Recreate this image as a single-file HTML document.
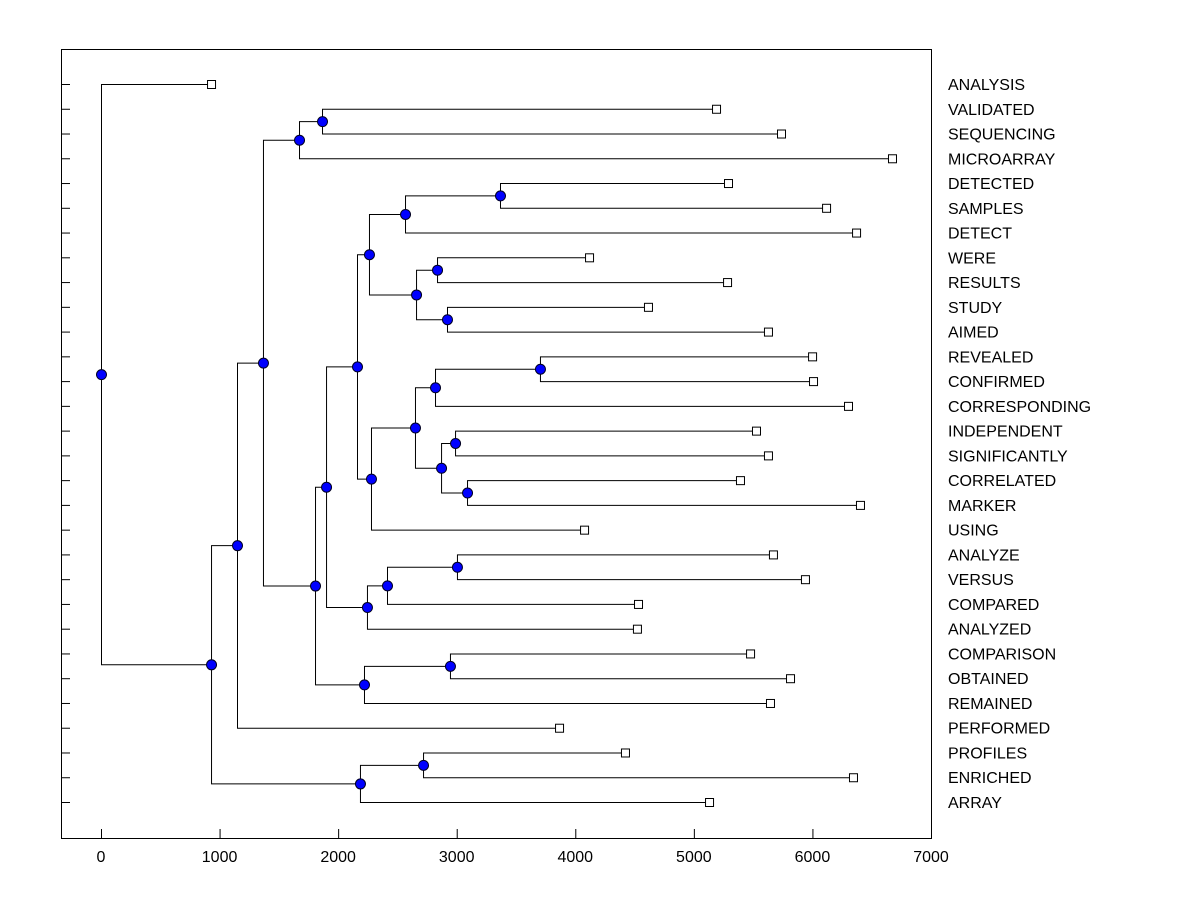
<!DOCTYPE html>
<html><head><meta charset="utf-8"><style>
body{margin:0;background:#fff;}
svg text{font-family:"Liberation Sans",Arial,sans-serif;font-size:16px;fill:#000;}
</style></head><body>
<svg id="chart" width="1200" height="900" xmlns="http://www.w3.org/2000/svg"></svg>
<script>
const labels=["ANALYSIS","VALIDATED","SEQUENCING","MICROARRAY","DETECTED","SAMPLES","DETECT","WERE","RESULTS","STUDY","AIMED","REVEALED","CONFIRMED","CORRESPONDING","INDEPENDENT","SIGNIFICANTLY","CORRELATED","MARKER","USING","ANALYZE","VERSUS","COMPARED","ANALYZED","COMPARISON","OBTAINED","REMAINED","PERFORMED","PROFILES","ENRICHED","ARRAY"];
const leafValues=[928,5187,5735,6671,5288,6115,6368,4116,5280,4613,5625,5997,6005,6300,5524,5625,5389,6401,4074,5667,5937,4529,4520,5474,5811,5642,3863,4419,6342,5128];
// merges: [childA, childB, height]; children are leaf names or earlier merge ids "n#"
const mergeA=["PROFILES","n0","VALIDATED","n2","DETECTED","n4","WERE","STUDY","n6","n5","REVEALED","n10","INDEPENDENT","CORRELATED","n12","n11","n15","n9","ANALYZE","n18","n19","n17","COMPARISON","n22","n21","n3","n25","n26","ANALYSIS"];
const mergeB=["ENRICHED","ARRAY","SEQUENCING","MICROARRAY","SAMPLES","DETECT","RESULTS","AIMED","n7","n8","CONFIRMED","CORRESPONDING","SIGNIFICANTLY","MARKER","n13","n14","USING","n16","VERSUS","COMPARED","ANALYZED","n20","OBTAINED","REMAINED","n23","n24","PERFORMED","n1","n27"];
const heights=[2716,2184,1864,1670,3365,2564,2834,2918,2657,2260,3702,2817,2986,3087,2868,2648,2277,2159,3002,2412,2243,1898,2943,2218,1805,1366,1147,928,0];
const xTicks=[0,1000,2000,3000,4000,5000,6000,7000];

const NS="http://www.w3.org/2000/svg",svg=document.getElementById('chart');
const L=61,R=931,T=49,B=838;
const xs=v=>101+v*(830/7000);
const ys=i=>84+i*(718/29);
function mk(t,a,p){const e=document.createElementNS(NS,t);for(const k in a)e.setAttribute(k,a[k]);(p||svg).appendChild(e);return e;}
const frame=mk('rect',{x:L+0.5,y:T+0.5,width:R-L,height:B-T,fill:'none',stroke:'#000','stroke-width':1});


const ticks=mk('g',{stroke:'#000','stroke-width':1});


labels.forEach((n,i)=>{mk('line',{x1:L,x2:L+9,y1:ys(i)+0.5,y2:ys(i)+0.5},ticks);
 const t=mk('text',{x:948,y:ys(i)+6});t.textContent=n;
 
 });
xTicks.forEach(v=>{mk('line',{x1:xs(v)+0.5,x2:xs(v)+0.5,y1:B,y2:B-9},ticks);
 const t=mk('text',{x:xs(v),y:862,'text-anchor':'middle'});t.textContent=v;
 
 });
const pos={};
labels.forEach((n,i)=>pos[n]={x:xs(leafValues[i]),y:ys(i)});
const lines=mk('g',{stroke:'#000','stroke-width':1,fill:'none'});


const nodes=[];
mergeA.forEach((a,k)=>{const b=mergeB[k],pa=pos[a],pb=pos[b],x=xs(heights[k]);
 if(!pa||!pb)return;
 const y=(pa.y+pb.y)/2;
 mk('path',{d:`M${pa.x},${pa.y+0.5}H${x+0.5}V${pb.y+0.5}H${pb.x}`},lines);
 pos['n'+k]={x:x,y:y};nodes.push({x:x,y:y});});
nodes.forEach(p=>{const c=mk('circle',{cx:p.x+0.5,cy:p.y+0.5,r:5,fill:'#0000ff',stroke:'#000022','stroke-width':1});
 
 });
labels.forEach(n=>{const p=pos[n];const s=mk('rect',{x:p.x-3.5,y:p.y-3.5,width:8,height:8,fill:'#fff',stroke:'#000'});
 
 });
</script>
</body></html>
